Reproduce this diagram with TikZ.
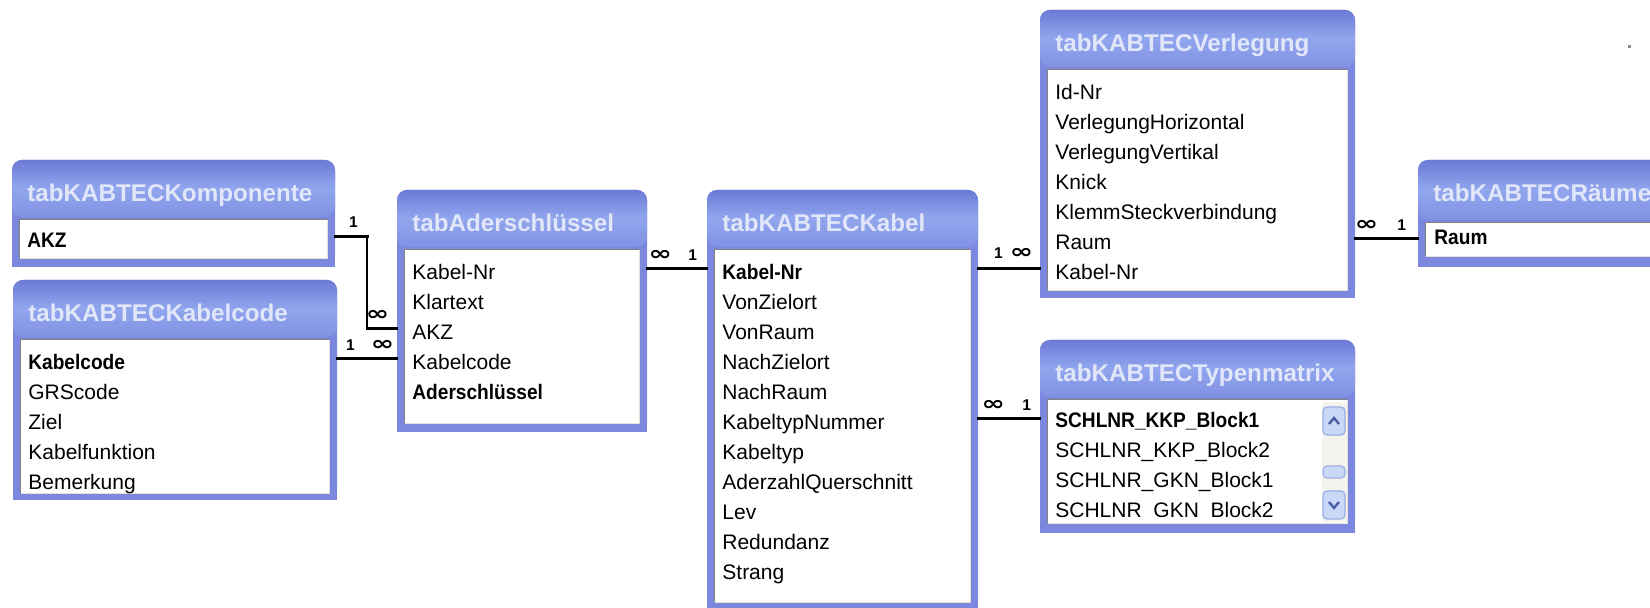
\documentclass[tikz,border=0pt]{standalone}
\usepackage{fontspec}
\setmainfont{Liberation Sans}
\newfontfamily\keyfam[FakeStretch=0.91]{Liberation Sans}
\newfontfamily\symfam{DejaVu Sans}
\usetikzlibrary{fit,calc}

\definecolor{frameblue}{HTML}{7B88DE}
\definecolor{headtop}{HTML}{6C7AD6}
\definecolor{headmid}{HTML}{91A6EE}
\definecolor{headbot}{HTML}{8191E3}
\definecolor{titletxt}{HTML}{E1E6F8}
\definecolor{fielddark}{HTML}{848178}
\definecolor{fieldlight}{HTML}{E4E1D6}
\definecolor{btnfill}{HTML}{C9D8F7}
\definecolor{btnedge}{HTML}{98AEE6}
\definecolor{btnarrow}{HTML}{4A5FA6}
\definecolor{track}{HTML}{F4F3EE}

\tikzset{
  tabframe/.style={rectangle, inner sep=0pt, rounded corners=5pt, fill=frameblue},
  tabtitle/.style={anchor=base west, inner sep=0pt, text=titletxt,
    font=\fontsize{12.1}{14}\selectfont\bfseries},
  tabfield/.style={rectangle, inner sep=0pt, fill=white},
  rowtxt/.style={anchor=base west, inner sep=0pt, text height=13pt, text depth=1.5pt,
    font=\fontsize{10.5}{12}\selectfont},
  keytxt/.style={rowtxt, font=\fontsize{10.5}{12}\selectfont\keyfam\bfseries},
  relthick/.style={line width=1.5pt, line cap=rect},
  relthin/.style={line width=1pt},
  one/.style={inner sep=0pt, font=\fontsize{7.8}{8}\selectfont\bfseries},
  many/.style={inner sep=0pt, font=\fontsize{10}{10}\selectfont\symfam\bfseries},
  sbtn/.style={draw=btnedge, fill=btnfill, rounded corners=2pt, line width=0.6pt},
  sarrow/.style={draw=btnarrow, line width=1.2pt},
}
\newcommand\manysym{\scalebox{1.4}[1]{∞}}

% table window: name, left, top, right, bottom, field top, field bottom, title
\newcommand\dbtable[8]{%
  \node[tabframe, fit={(#2,#3) (#4,#5)}] (#1) {};
  \fill[frameblue] (#2,{(#3+#5)/2}) rectangle (#4,#5);
  \shade[top color=headtop, bottom color=headbot, middle color=headmid, rounded corners=5pt]
    (#2,#3) rectangle (#4,#6-3);
  \node[tabtitle] (#1-title) at (#2+15,#3+42) {#8};
  \node[tabfield, fit={(#2+8,#6) (#4-8,#7)}] (#1-f) {};
  \draw[fieldlight, line width=0.8pt] (#1-f.south west) -- (#1-f.south east) -- (#1-f.north east);
  \draw[fielddark, line width=0.8pt] (#1-f.south west) -- (#1-f.north west) -- (#1-f.north east);
}

\begin{document}
\begin{tikzpicture}[x=0.5pt, y=-0.5pt]
\useasboundingbox (0,0) rectangle (1650,608);
\clip (0,0) rectangle (1650,608);
\fill[white] (0,0) rectangle (1650,608);

% --- tables ---
\dbtable{komp}{12}{160}{335}{267}{220}{258}{tabKABTECKomponente}
\node[keytxt] (komp-akz) at (27,248) {AKZ};

\dbtable{kcode}{13}{280}{337}{500}{340}{493}{tabKABTECKabelcode}
\node[keytxt] (kcode-code) at (28,370) {Kabelcode};
\node[rowtxt] (kcode-grs)  at (28,400) {GRScode};
\node[rowtxt] (kcode-ziel) at (28,430) {Ziel};
\node[rowtxt] (kcode-fkt)  at (28,460) {Kabelfunktion};
\node[rowtxt] (kcode-bem)  at (28,490) {Bemerkung};

\dbtable{ader}{397}{190}{647}{432}{250}{423}{tabAderschlüssel}
\node[rowtxt] (ader-nr)   at (412,280) {Kabel-Nr};
\node[rowtxt] (ader-klar) at (412,310) {Klartext};
\node[rowtxt] (ader-akz)  at (412,340) {AKZ};
\node[rowtxt] (ader-code) at (412,370) {Kabelcode};
\node[keytxt] (ader-key)  at (412,400) {Aderschlüssel};

\dbtable{kabel}{707}{190}{978}{612}{250}{602}{tabKABTECKabel}
\node[keytxt] (kabel-nr)    at (722,280) {Kabel-Nr};
\node[rowtxt] (kabel-vzo)   at (722,310) {VonZielort};
\node[rowtxt] (kabel-vr)    at (722,340) {VonRaum};
\node[rowtxt] (kabel-nzo)   at (722,370) {NachZielort};
\node[rowtxt] (kabel-nr2)   at (722,400) {NachRaum};
\node[rowtxt] (kabel-ktn)   at (722,430) {KabeltypNummer};
\node[rowtxt] (kabel-kt)    at (722,460) {Kabeltyp};
\node[rowtxt] (kabel-aq)    at (722,490) {AderzahlQuerschnitt};
\node[rowtxt] (kabel-lev)   at (722,520) {Lev};
\node[rowtxt] (kabel-red)   at (722,550) {Redundanz};
\node[rowtxt] (kabel-str)   at (722,580) {Strang};

\dbtable{verl}{1040}{10}{1355}{298}{70}{290}{tabKABTECVerlegung}
\node[rowtxt] (verl-id)   at (1055,100) {Id-Nr};
\node[rowtxt] (verl-vh)   at (1055,130) {VerlegungHorizontal};
\node[rowtxt] (verl-vv)   at (1055,160) {VerlegungVertikal};
\node[rowtxt] (verl-kn)   at (1055,190) {Knick};
\node[rowtxt] (verl-ks)   at (1055,220) {KlemmSteckverbindung};
\node[rowtxt] (verl-raum) at (1055,250) {Raum};
\node[rowtxt] (verl-nr)   at (1055,280) {Kabel-Nr};

\dbtable{typ}{1040}{340}{1355}{533}{400}{523}{tabKABTECTypenmatrix}
\begin{scope}
  \clip (typ-f.north west) rectangle (1348,519);
  \node[keytxt] (typ-k1) at (1055,428) {SCHLNR\_KKP\_Block1};
  \node[rowtxt] (typ-k2) at (1055,458) {SCHLNR\_KKP\_Block2};
  \node[rowtxt] (typ-g1) at (1055,488) {SCHLNR\_GKN\_Block1};
  \node[rowtxt] (typ-g2) at (1055,518) {SCHLNR\_GKN\_Block2};
\end{scope}
% scroll bar
\fill[track] (1322,402) rectangle (1347,522);
\draw[sbtn] (1323,407) rectangle (1345,435);
\draw[sbtn] (1323,466) rectangle (1345,478);
\draw[sbtn] (1323,491) rectangle (1345,519);
\draw[sarrow] (1329,424) -- (1334,418) -- (1339,424);
\draw[sarrow] (1329,502) -- (1334,508) -- (1339,502);

\dbtable{raeume}{1418}{160}{1680}{267}{223}{256}{tabKABTECRäume}
\node[keytxt] (raeume-raum) at (1434,245) {Raum};

% --- relationships ---
% AKZ: Komponente -> Aderschluessel
\coordinate (bend) at ($(komp.east |- komp-akz)+(32,0)$);
\draw[relthick] (komp.east |- komp-akz) -- (bend);
\draw[relthin] (bend) -- (bend |- ader-akz);
\draw[relthick] (bend |- ader-akz) -- (ader.west |- ader-akz);
\node[one]  (r1a) at ($(komp.east |- komp-akz)+(18,-14)$) {1};
\node[many] (r1b) at ($(ader.west |- ader-akz)+(-19,-13)$) {\manysym};

% Kabelcode: Kabelcode -> Aderschluessel
\draw[relthick] (kcode.east |- ader-code) -- (ader.west |- ader-code);
\node[one]  (r2a) at ($(kcode.east |- ader-code)+(13,-13)$) {1};
\node[many] (r2b) at ($(ader.west |- ader-code)+(-14,-13)$) {\manysym};

% Kabel-Nr: Aderschluessel -> Kabel
\draw[relthick] (ader.east |- ader-nr) -- (kabel.west |- kabel-nr);
\node[many] (r3a) at ($(ader.east |- ader-nr)+(13,-13)$) {\manysym};
\node[one]  (r3b) at ($(kabel.west |- kabel-nr)+(-14,-13)$) {1};

% Kabel-Nr: Kabel -> Verlegung
\draw[relthick] (kabel.east |- verl-nr) -- (verl.west |- verl-nr);
\node[one]  (r4a) at ($(kabel.east |- verl-nr)+(20,-15)$) {1};
\node[many] (r4b) at ($(verl.west |- verl-nr)+(-18,-15)$) {\manysym};

% Kabeltyp: Kabel -> Typenmatrix
\draw[relthick] (kabel.east |- kabel-ktn) -- (typ.west |- kabel-ktn);
\node[many] (r5a) at ($(kabel.east |- kabel-ktn)+(15,-13)$) {\manysym};
\node[one]  (r5b) at ($(typ.west |- kabel-ktn)+(-13,-13)$) {1};

% Raum: Verlegung -> Raeume
\draw[relthick] (verl.east |- verl-raum) -- (raeume.west |- verl-raum);
\node[many] (r6a) at ($(verl.east |- verl-raum)+(11,-13)$) {\manysym};
\node[one]  (r6b) at ($(raeume.west |- verl-raum)+(-16,-13)$) {1};

% stray pixel in the corner
\fill[black!45] (1628,45) rectangle (1631,48);
\end{tikzpicture}
\end{document}
